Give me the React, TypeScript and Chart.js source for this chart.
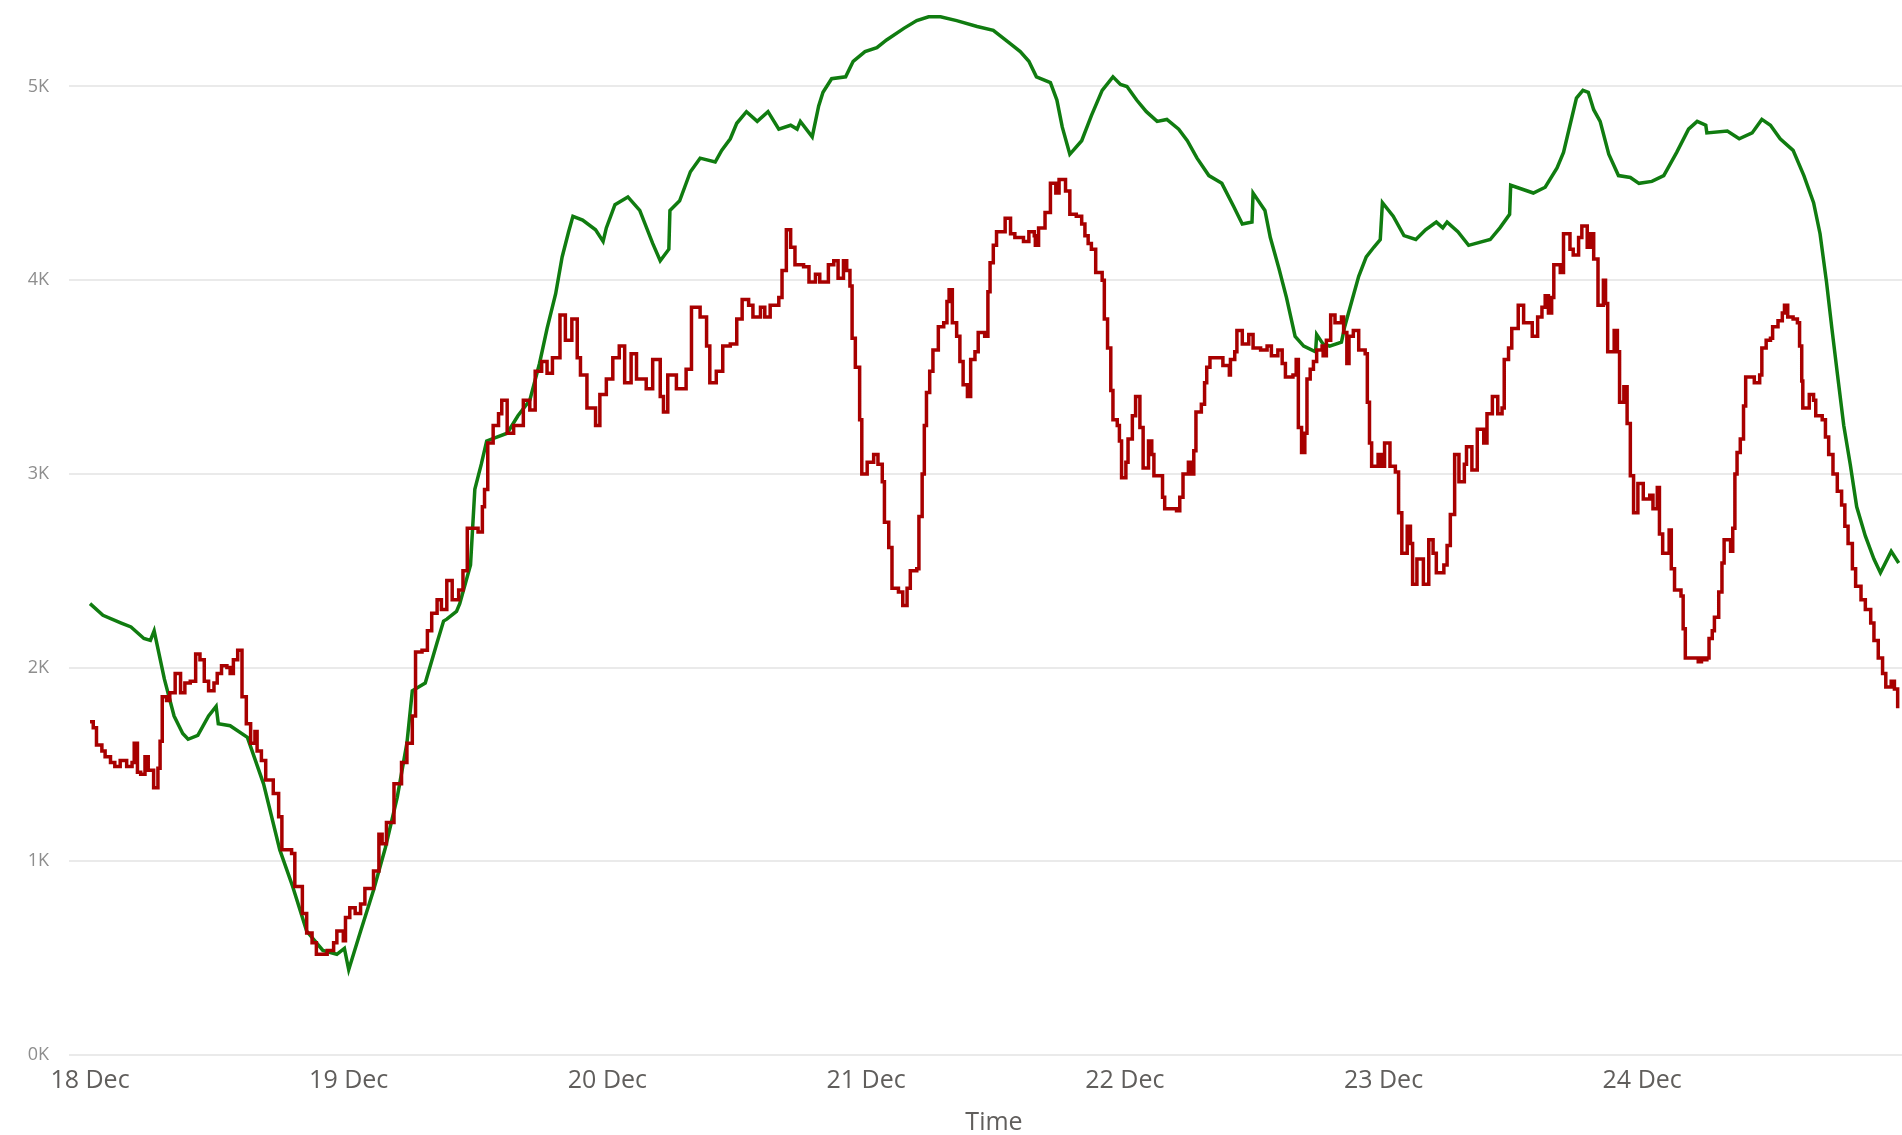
import React, { useEffect, useRef } from "react";
import { Chart, registerables } from "chart.js";

Chart.register(...registerables);

// Time in hours since 18 Dec 00:00
const dayTicks = [0, 24, 48, 72, 96, 120, 144];
const dayLabels = ["18 Dec", "19 Dec", "20 Dec", "21 Dec", "22 Dec", "23 Dec", "24 Dec"];
const yTicks = [0, 1000, 2000, 3000, 4000, 5000];

const greenHours = [
  0, 1.2, 2.9, 3.8, 5.0, 5.6, 5.95, 6.9, 7.8, 8.6, 9.1, 10.0, 11.0, 11.7, 11.9, 13.0, 14.6, 16.1, 17.6, 18.8,
  20.1, 21.6, 22.9, 23.6, 24.0, 25.05, 26.3, 27.4, 28.5, 29.4, 29.9, 31.1, 32.2, 32.8, 33.1, 34.0, 34.3, 35.3, 35.7, 36.3,
  36.8, 38.7, 39.7, 40.8, 41.7, 42.4, 43.2, 43.8, 44.4, 44.8, 45.7, 46.9, 47.6, 47.9, 48.7, 49.9, 51.0, 52.2, 52.9, 53.7,
  53.8, 54.7, 55.7, 56.6, 58.0, 58.6, 59.4, 60.0, 60.9, 61.9, 62.9, 63.9, 65.0, 65.6, 65.9, 67.0, 67.6, 68.0, 68.8, 70.1,
  70.8, 71.9, 73.0, 73.9, 75.5, 76.7, 77.8, 78.9, 80.4, 82.3, 83.8, 85.4, 86.3, 87.1, 87.8, 89.1, 89.7, 90.2, 90.9, 92.0,
  92.9, 93.9, 94.9, 95.6, 96.2, 97.1, 98.0, 99.0, 99.9, 101.0, 101.8, 102.7, 103.8, 105.0, 106.1, 106.9, 107.8, 107.9, 109.0, 109.5,
  110.3, 111.0, 111.8, 112.6, 113.7, 113.8, 114.4, 115.0, 116.1, 116.4, 117.1, 117.7, 118.4, 119.1, 119.7, 119.9, 120.9, 121.9, 123.0, 123.9,
  124.9, 125.5, 125.9, 126.9, 127.9, 129.9, 130.8, 131.7, 131.8, 133.9, 135.0, 136.1, 136.7, 137.3, 137.9, 138.5, 139.0, 139.5, 140.1, 140.9,
  141.8, 142.9, 143.7, 144.9, 146.0, 147.2, 148.3, 149.1, 149.9, 150.0, 151.9, 153.0, 154.2, 155.1, 155.9, 156.8, 158.0, 159.0, 159.9, 160.5,
  161.1, 161.6, 162.1, 162.7, 163.3, 163.9, 164.7, 165.5, 166.1, 167.1, 167.8,
];
const greenValues = [
  2330, 2270, 2230, 2210, 2150, 2140, 2190, 1940, 1750, 1660, 1630, 1650, 1750, 1800, 1710, 1700, 1640, 1400, 1060, 870,
  640, 540, 520, 550, 440, 630, 850, 1070, 1330, 1610, 1880, 1920, 2130, 2240, 2250, 2290, 2330, 2530, 2920, 3050,
  3170, 3210, 3300, 3380, 3570, 3750, 3930, 4120, 4250, 4330, 4310, 4260, 4200, 4270, 4390, 4430, 4360, 4190, 4100, 4160,
  4360, 4410, 4560, 4630, 4610, 4670, 4730, 4810, 4870, 4820, 4870, 4780, 4800, 4780, 4820, 4740, 4900, 4970, 5040, 5050,
  5130, 5180, 5200, 5240, 5300, 5340, 5360, 5360, 5340, 5310, 5290, 5220, 5180, 5130, 5050, 5020, 4930, 4790, 4650, 4720,
  4850, 4980, 5050, 5010, 5000, 4930, 4870, 4820, 4830, 4780, 4720, 4630, 4540, 4500, 4380, 4290, 4300, 4450, 4360, 4220,
  4060, 3910, 3710, 3660, 3630, 3720, 3670, 3660, 3680, 3760, 3900, 4020, 4120, 4170, 4210, 4400, 4330, 4230, 4210, 4260,
  4300, 4270, 4300, 4250, 4180, 4210, 4270, 4340, 4490, 4450, 4480, 4580, 4660, 4800, 4940, 4980, 4970, 4880, 4820, 4650,
  4540, 4530, 4500, 4510, 4540, 4660, 4780, 4820, 4800, 4760, 4770, 4730, 4760, 4830, 4800, 4730, 4670, 4540, 4400, 4240,
  3990, 3750, 3520, 3250, 3050, 2830, 2680, 2560, 2490, 2600, 2540,
];

const redHours = [
  0, 0.3, 0.6, 1.1, 1.4, 1.9, 2.3, 2.8, 3.4, 3.9, 4.1, 4.4, 4.7, 5.1, 5.4, 5.9, 6.3, 6.5, 6.7, 7.1,
  7.4, 7.9, 8.4, 8.8, 9.3, 9.8, 10.2, 10.6, 11.0, 11.5, 11.8, 12.2, 12.7, 13.0, 13.3, 13.7, 14.1, 14.5, 14.9, 15.3,
  15.5, 15.9, 16.3, 17.0, 17.5, 17.8, 18.7, 19.0, 19.7, 20.1, 20.6, 21.0, 22.0, 22.6, 22.9, 23.5, 23.7, 24.1, 24.6, 25.1,
  25.5, 26.3, 26.8, 27.1, 27.5, 28.2, 28.9, 29.4, 29.9, 30.2, 30.8, 31.3, 31.7, 32.2, 32.6, 33.1, 33.6, 34.2, 34.6, 35.0,
  36.0, 36.4, 36.6, 36.9, 37.4, 37.9, 38.2, 38.7, 39.3, 40.2, 40.8, 41.3, 41.9, 42.4, 42.9, 43.6, 44.1, 44.7, 45.2, 45.5,
  46.1, 46.9, 47.3, 47.9, 48.5, 49.1, 49.6, 50.2, 50.7, 51.6, 52.2, 52.9, 53.2, 53.6, 54.4, 55.3, 55.8, 56.6, 57.2, 57.5,
  58.1, 58.7, 59.4, 60.0, 60.5, 61.1, 61.5, 62.2, 62.6, 63.1, 63.9, 64.2, 64.6, 65.0, 65.4, 66.2, 66.7, 67.3, 67.7, 68.5,
  69.0, 69.4, 69.9, 70.2, 70.5, 70.7, 71.0, 71.4, 71.6, 72.1, 72.7, 73.1, 73.5, 73.7, 74.1, 74.4, 75.0, 75.4, 75.8, 76.1,
  76.7, 76.9, 77.2, 77.4, 77.6, 77.9, 78.2, 78.7, 79.2, 79.5, 79.7, 80.0, 80.4, 80.7, 81.0, 81.4, 81.7, 82.1, 82.4, 83.0,
  83.3, 83.5, 83.8, 84.1, 84.9, 85.4, 85.8, 86.6, 87.1, 87.6, 87.7, 88.0, 88.6, 89.1, 89.6, 89.9, 90.5, 90.9, 91.5, 92.0,
  92.3, 92.6, 92.9, 93.3, 93.9, 94.1, 94.4, 94.7, 94.9, 95.3, 95.5, 95.7, 96.1, 96.3, 96.7, 97.0, 97.4, 97.7, 98.2, 98.5,
  98.7, 99.3, 99.5, 99.7, 100.8, 101.1, 101.4, 101.9, 102.2, 102.4, 102.6, 103.1, 103.4, 103.6, 103.9, 104.8, 105.1, 105.7, 105.8, 106.2,
  106.4, 106.9, 107.5, 107.9, 108.6, 109.2, 109.6, 110.2, 110.6, 110.9, 111.6, 111.9, 112.1, 112.4, 112.7, 112.9, 113.2, 113.5, 113.8, 114.3,
  114.4, 114.7, 115.1, 115.5, 116.1, 116.3, 116.6, 116.8, 117.2, 117.7, 118.3, 118.5, 118.7, 118.9, 119.5, 119.8, 120.1, 120.6, 121.1, 121.4,
  121.7, 122.2, 122.5, 122.7, 123.1, 123.7, 124.2, 124.6, 124.9, 125.6, 125.9, 126.2, 126.6, 127.0, 127.5, 127.7, 128.2, 128.7, 129.3, 129.6,
  130.1, 130.6, 131.0, 131.2, 131.6, 131.9, 132.5, 133.0, 133.8, 134.3, 134.7, 135.0, 135.3, 135.6, 135.8, 136.4, 136.7, 137.3, 137.6, 138.1,
  138.4, 138.9, 139.2, 139.5, 139.9, 140.4, 140.6, 140.8, 141.4, 141.7, 141.9, 142.3, 142.6, 142.9, 143.2, 143.6, 144.1, 144.7, 145.0, 145.4,
  145.6, 145.9, 146.5, 146.7, 147.0, 147.6, 147.8, 148.0, 148.6, 149.2, 149.5, 149.7, 150.0, 150.2, 150.5, 150.7, 151.1, 151.4, 151.6, 152.2,
  152.4, 152.6, 152.8, 153.1, 153.4, 153.6, 154.4, 154.9, 155.1, 155.5, 155.9, 156.1, 156.6, 157.0, 157.2, 157.5, 158.0, 158.4, 158.6, 158.8,
  158.9, 159.5, 159.9, 160.1, 160.7, 161.0, 161.3, 161.7, 162.1, 162.5, 162.8, 163.1, 163.5, 163.8, 164.3, 164.7, 165.2, 165.5, 165.9, 166.3,
  166.6, 167.1, 167.4, 167.7,
];
const redValues = [
  1720, 1690, 1600, 1570, 1540, 1510, 1490, 1520, 1490, 1510, 1610, 1460, 1450, 1540, 1470, 1380, 1480, 1620, 1850, 1830,
  1870, 1970, 1870, 1920, 1930, 2070, 2040, 1930, 1880, 1920, 1970, 2010, 2000, 1970, 2040, 2090, 1850, 1710, 1610, 1670,
  1570, 1520, 1420, 1350, 1230, 1060, 1040, 870, 730, 630, 580, 520, 540, 580, 640, 590, 710, 760, 730, 780,
  860, 950, 1140, 1090, 1200, 1400, 1510, 1610, 1750, 2080, 2090, 2190, 2280, 2350, 2300, 2450, 2350, 2400, 2500, 2720,
  2700, 2830, 2920, 3160, 3250, 3310, 3380, 3210, 3250, 3380, 3330, 3530, 3580, 3520, 3600, 3820, 3690, 3800, 3600, 3510,
  3340, 3250, 3410, 3490, 3600, 3660, 3470, 3620, 3490, 3440, 3590, 3400, 3320, 3510, 3440, 3540, 3860, 3810, 3660, 3470,
  3530, 3660, 3670, 3800, 3900, 3870, 3810, 3860, 3810, 3870, 3910, 4050, 4260, 4170, 4080, 4070, 3990, 4030, 3990, 4080,
  4100, 4010, 4100, 4050, 3970, 3700, 3550, 3280, 3000, 3060, 3100, 3050, 2960, 2750, 2620, 2410, 2390, 2320, 2410, 2500,
  2510, 2780, 3000, 3250, 3420, 3530, 3640, 3760, 3780, 3890, 3950, 3780, 3710, 3580, 3460, 3400, 3590, 3630, 3730, 3710,
  3940, 4090, 4180, 4250, 4320, 4240, 4220, 4200, 4250, 4230, 4180, 4270, 4350, 4500, 4450, 4520, 4460, 4340, 4330, 4290,
  4230, 4190, 4160, 4040, 4000, 3800, 3650, 3430, 3280, 3250, 3170, 2980, 3060, 3180, 3300, 3400, 3240, 3030, 3170, 3100,
  2990, 2990, 2880, 2820, 2810, 2880, 3000, 3060, 3000, 3120, 3320, 3360, 3470, 3550, 3600, 3600, 3560, 3510, 3590, 3630,
  3740, 3670, 3720, 3650, 3640, 3660, 3610, 3640, 3570, 3500, 3510, 3590, 3240, 3110, 3210, 3490, 3540, 3580, 3640, 3660,
  3610, 3690, 3820, 3780, 3810, 3730, 3570, 3710, 3740, 3640, 3620, 3370, 3160, 3040, 3100, 3040, 3160, 3040, 3010, 2800,
  2590, 2730, 2640, 2430, 2560, 2430, 2660, 2590, 2490, 2530, 2630, 2790, 3100, 2960, 3050, 3140, 3020, 3230, 3160, 3310,
  3400, 3310, 3340, 3590, 3650, 3750, 3870, 3780, 3710, 3810, 3860, 3920, 3830, 3910, 4080, 4040, 4240, 4160, 4130, 4220,
  4280, 4170, 4240, 4110, 3870, 4000, 3880, 3630, 3740, 3630, 3370, 3450, 3260, 2990, 2800, 2950, 2870, 2890, 2820, 2930,
  2690, 2590, 2710, 2510, 2400, 2370, 2200, 2050, 2050, 2030, 2050, 2040, 2050, 2150, 2190, 2260, 2390, 2540, 2660, 2600,
  2720, 3000, 3110, 3180, 3350, 3500, 3470, 3510, 3650, 3690, 3700, 3760, 3790, 3830, 3870, 3810, 3800, 3780, 3660, 3480,
  3340, 3410, 3380, 3300, 3280, 3190, 3100, 3000, 2910, 2840, 2730, 2640, 2510, 2420, 2350, 2300, 2230, 2140, 2050, 1970,
  1900, 1930, 1890, 1790,
];

const FONT = '"Segoe UI", "Open Sans", "Noto Sans", sans-serif';

export default function App() {
  const canvasRef = useRef<HTMLCanvasElement | null>(null);

  useEffect(() => {
    if (!canvasRef.current) return;
    const chart = new Chart(canvasRef.current, {
      type: "line",
      data: {
        datasets: [
          {
            label: "Red",
            data: redHours.map((h, i) => ({ x: h, y: redValues[i] })),
            borderColor: "#A80000",
            borderWidth: 3.5,
            pointRadius: 0,
            pointHoverRadius: 0,
            pointBorderWidth: 0,
            stepped: true,
            fill: false,
          },
          {
            label: "Green",
            data: greenHours.map((h, i) => ({ x: h, y: greenValues[i] })),
            borderColor: "#107C10",
            borderWidth: 3.5,
            pointRadius: 0,
            pointHoverRadius: 0,
            pointBorderWidth: 0,
            tension: 0,
            fill: false,
          },
        ],
      },
      options: {
        responsive: false,
        animation: false,
        layout: { autoPadding: false, padding: { top: 9, right: 0, bottom: 0, left: 0 } },
        plugins: { legend: { display: false }, tooltip: { enabled: false } },
        scales: {
          x: {
            type: "linear",
            min: -1.95,
            max: 169.68,
            grid: { display: false, drawTicks: false },
            border: { display: false },
            afterBuildTicks: (axis: any) => {
              axis.ticks = dayTicks.map((v) => ({ value: v }));
            },
            afterFit: (scale: any) => {
              scale.height = 80;
            },
            ticks: {
              autoSkip: false,
              maxRotation: 0,
              padding: 11,
              color: "#605E5C",
              font: { family: FONT, size: 25 },
              callback: (v: any) => {
                const i = dayTicks.indexOf(Number(v));
                return i >= 0 ? dayLabels[i] : "";
              },
            },
            title: {
              display: true,
              text: "Time",
              color: "#605E5C",
              font: { family: FONT, size: 25, lineHeight: 1 },
              padding: { top: 14, bottom: 0 },
            },
          },
          y: {
            type: "linear",
            min: 0,
            max: 5400,
            border: { display: false },
            grid: { color: "#EAEAEA", lineWidth: 2, drawTicks: false },
            afterBuildTicks: (axis: any) => {
              axis.ticks = yTicks.map((v) => ({ value: v }));
            },
            afterFit: (scale: any) => {
              scale.width = 69;
              scale.paddingTop = 0;
              scale.paddingBottom = 0;
            },
            ticks: {
              padding: 20,
              color: "#8E8E8E",
              font: { family: FONT, size: 18 },
              callback: (v: any) => `${Number(v) / 1000}K`,
            },
          },
        },
      },
    });
    return () => chart.destroy();
  }, []);

  return (
    <div
      style={{
        position: "absolute",
        left: 0,
        top: 0,
        width: 1902,
        height: 1135,
        overflow: "hidden",
        background: "#ffffff",
      }}
    >
      <canvas ref={canvasRef} width={1919} height={1135} style={{ display: "block" }} />
    </div>
  );
}
